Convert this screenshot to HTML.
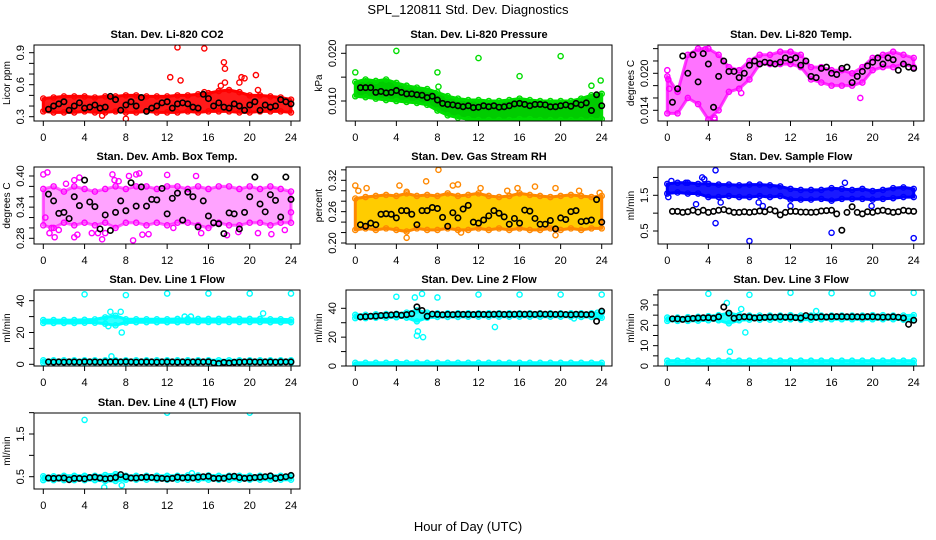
<!DOCTYPE html>
<html><head><meta charset="utf-8"><style>
html,body{margin:0;padding:0;background:#fff;}
svg{display:block;font-family:"Liberation Sans",Arial,sans-serif;}
</style></head><body>
<svg id="chart" width="936" height="540" viewBox="0 0 936 540">
<rect x="0" y="0" width="936" height="540" fill="#fff"/>
<text x="468" y="14" text-anchor="middle" font-size="13">SPL_120811  Std. Dev. Diagnostics</text>
<text x="468" y="531" text-anchor="middle" font-size="13">Hour of Day (UTC)</text>
</svg>
<script>
const HOURS=[0,1,2,3,4,5,6,7,8,9,10,11,12,13,14,15,16,17,18,19,20,21,22,23,24];
const HALF=[0.5,1,1.5,2,2.5,3,3.5,4,4.5,5,5.5,6,6.5,7,7.5,8,8.5,9,9.5,10,10.5,11,11.5,12,12.5,13,13.5,14,14.5,15,15.5,16,16.5,17,17.5,18,18.5,19,19.5,20,20.5,21,21.5,22,22.5,23,23.5,24];
const X_TICKS=[0,4,8,12,16,20,24];

const co2Lo=[0.35,0.34,0.34,0.34,0.35,0.34,0.34,0.35,0.34,0.34,0.35,0.34,0.34,0.34,0.35,0.34,0.35,0.35,0.35,0.34,0.34,0.35,0.35,0.35,0.34];
const co2Hi=[0.47,0.48,0.49,0.49,0.49,0.48,0.49,0.49,0.50,0.50,0.49,0.49,0.49,0.50,0.50,0.51,0.52,0.54,0.55,0.53,0.50,0.50,0.49,0.48,0.46];
const co2Black=[0.37,0.40,0.42,0.44,0.36,0.40,0.43,0.38,0.39,0.41,0.38,0.39,0.49,0.46,0.36,0.41,0.44,0.40,0.48,0.35,0.38,0.40,0.43,0.44,0.38,0.42,0.43,0.42,0.39,0.38,0.51,0.47,0.40,0.43,0.39,0.38,0.42,0.40,0.36,0.41,0.44,0.36,0.41,0.39,0.40,0.46,0.44,0.42];
const co2OutX=[13,15.6,12.3,13.3,17.5,17.6,17.2,17.6,19.0,19.2,19.5,20.6,20.8,15.6,8,5.7];
const co2OutY=[0.95,0.94,0.67,0.64,0.81,0.75,0.59,0.62,0.62,0.67,0.66,0.69,0.55,0.53,0.28,0.31];

const presLo=[0.0110,0.0108,0.0105,0.0102,0.0100,0.0098,0.0096,0.0092,0.0080,0.0070,0.0065,0.0062,0.0060,0.0060,0.0060,0.0060,0.0062,0.0062,0.0060,0.0060,0.0060,0.0060,0.0060,0.0060,0.0062];
const presHi=[0.0140,0.0145,0.0142,0.0145,0.0138,0.0132,0.0128,0.0125,0.0118,0.0110,0.0105,0.0102,0.0102,0.0100,0.0100,0.0102,0.0105,0.0102,0.0100,0.0100,0.0100,0.0100,0.0105,0.0112,0.0115];
const presBlack=[0.0128,0.0128,0.0128,0.0118,0.0120,0.0117,0.0118,0.0122,0.0118,0.0115,0.0115,0.0113,0.0112,0.0107,0.0110,0.0102,0.0095,0.0093,0.0092,0.0090,0.0088,0.0090,0.0086,0.0087,0.0090,0.0088,0.0090,0.0087,0.0088,0.0090,0.0094,0.0095,0.0093,0.0090,0.0093,0.0093,0.0092,0.0088,0.0088,0.0090,0.0092,0.0089,0.0095,0.0092,0.0096,0.0080,0.0113,0.0090];
const presOutX=[0,4,8,8.1,12,16,20,23,23.9];
const presOutY=[0.016,0.0205,0.016,0.0130,0.0190,0.0152,0.0194,0.0132,0.0143];

const litLo=[0.0135,0.0135,0.016,0.015,0.0125,0.014,0.017,0.0175,0.019,0.0215,0.0215,0.0215,0.0215,0.021,0.019,0.0185,0.018,0.018,0.018,0.0185,0.0205,0.021,0.021,0.0215,0.021];
const litHi=[0.0195,0.017,0.023,0.024,0.024,0.023,0.021,0.0205,0.022,0.023,0.023,0.0235,0.0235,0.023,0.021,0.021,0.0205,0.0205,0.020,0.021,0.0225,0.023,0.0235,0.023,0.0225];
const litBlack=[0.0153,0.0175,0.0228,0.0200,0.0230,0.0186,0.0232,0.0215,0.0145,0.0195,0.0220,0.0203,0.0203,0.0193,0.0200,0.0213,0.0220,0.0215,0.0218,0.0217,0.0215,0.0218,0.0225,0.0222,0.0225,0.0213,0.0220,0.0195,0.0193,0.0208,0.0210,0.0200,0.0198,0.0208,0.0210,0.0185,0.0195,0.0203,0.0212,0.0218,0.0225,0.0215,0.0225,0.0222,0.0205,0.0215,0.0210,0.0208];
const litOutX=[0,0.1,0.2,3.7,4.6,4.6,7.2,18.8];
const litOutY=[0.0205,0.0190,0.0175,0.0239,0.0125,0.0128,0.0168,0.0160];

const ambLo=[0.305,0.30,0.31,0.305,0.31,0.305,0.31,0.30,0.31,0.31,0.305,0.31,0.305,0.31,0.31,0.305,0.30,0.31,0.305,0.305,0.31,0.31,0.305,0.31,0.31];
const ambHi=[0.375,0.38,0.37,0.38,0.375,0.37,0.375,0.38,0.375,0.38,0.38,0.375,0.38,0.38,0.375,0.38,0.375,0.38,0.38,0.375,0.38,0.375,0.38,0.375,0.37];
const ambBlack=[0.365,0.352,0.328,0.330,0.318,0.360,0.343,0.392,0.350,0.341,0.298,0.325,0.295,0.330,0.352,0.333,0.387,0.342,0.379,0.342,0.355,0.354,0.376,0.327,0.357,0.367,0.315,0.369,0.360,0.302,0.352,0.323,0.310,0.308,0.289,0.329,0.327,0.298,0.330,0.360,0.398,0.346,0.331,0.364,0.353,0.321,0.398,0.355];
const ambOutX=[0,0.4,0.6,3.3,3.5,6.7,6.9,8.3,8.7,9.0,9.3,12.0,14.8,3.0,4.7,5.7,6.0,9.6,10.2,0.2,1.1,2.2,3.0,5.3,7.3,12.6,15.3,17.8,18.9,20.8,22.1,23.4,24,0.8,1.5];
const ambOutY=[0.403,0.407,0.290,0.287,0.397,0.403,0.392,0.400,0.276,0.403,0.405,0.402,0.400,0.282,0.290,0.278,0.290,0.287,0.288,0.320,0.282,0.385,0.392,0.290,0.390,0.300,0.290,0.286,0.292,0.290,0.288,0.296,0.330,0.300,0.296];

const rhLo=[0.225,0.228,0.225,0.228,0.225,0.222,0.228,0.225,0.225,0.228,0.225,0.225,0.228,0.225,0.228,0.225,0.228,0.225,0.225,0.228,0.225,0.228,0.225,0.228,0.228];
const rhHi=[0.285,0.288,0.29,0.292,0.29,0.295,0.29,0.292,0.29,0.295,0.29,0.292,0.295,0.29,0.288,0.29,0.295,0.292,0.29,0.288,0.29,0.292,0.29,0.288,0.29];
const rhBlack=[0.235,0.232,0.238,0.235,0.255,0.256,0.255,0.248,0.262,0.262,0.255,0.235,0.262,0.262,0.268,0.266,0.249,0.232,0.258,0.248,0.265,0.272,0.240,0.238,0.244,0.252,0.262,0.257,0.250,0.236,0.247,0.238,0.263,0.261,0.247,0.236,0.236,0.243,0.227,0.248,0.245,0.260,0.262,0.241,0.242,0.244,0.283,0.240];
const rhOutX=[0,0.3,1.1,4.3,5.0,6.9,8.1,9.5,10.0,12.2,14.8,15.8,17.5,19.5,21.8,23.8,5.0,19.5,10.3];
const rhOutY=[0.310,0.300,0.305,0.310,0.298,0.318,0.340,0.310,0.312,0.305,0.300,0.305,0.308,0.305,0.300,0.296,0.210,0.215,0.220];

const sflLo=[1.55,1.58,1.55,1.55,1.45,1.45,1.48,1.45,1.45,1.48,1.45,1.48,1.38,1.38,1.38,1.40,1.35,1.40,1.40,1.40,1.38,1.40,1.42,1.45,1.45];
const sflHi=[1.82,1.85,1.85,1.82,1.82,1.80,1.80,1.78,1.80,1.80,1.78,1.75,1.68,1.65,1.65,1.65,1.70,1.68,1.65,1.68,1.62,1.65,1.70,1.72,1.68];
const sflBlack=[1.05,1.05,1.02,1.04,1.08,1.03,1.08,1.02,1.05,1.08,1.10,1.06,1.02,1.02,1.04,1.02,1.04,1.06,1.04,1.10,1.06,0.95,1.02,1.05,1.05,1.03,1.03,1.02,1.03,1.06,1.07,1.08,0.98,0.52,1.02,1.18,1.02,0.98,1.04,1.02,1.06,1.08,1.05,1.02,1.04,1.08,1.06,1.05];
const sflOutX=[4.7,3.4,3.6,1.8,0.4,0.1,8,16,24,4.7,2.8,5.2,8.9,9.3,12.0,17.3,19.9];
const sflOutY=[2.20,2.00,1.95,1.85,1.90,1.45,0.22,0.45,0.30,0.72,1.25,1.30,1.30,1.20,1.20,1.85,1.20];

const l1Lo=[26.0,26.0,26.0,26.0,26.2,26.2,25.5,24.5,26.3,26.5,26.5,26.5,26.5,26.5,26.6,26.6,26.6,26.6,26.6,26.6,26.6,26.6,26.5,26.5,26.5];
const l1Hi=[27.8,27.8,27.8,27.8,28.0,28.2,29.5,30.5,28.3,28.3,28.3,28.3,28.3,28.5,28.5,28.5,28.5,28.5,28.5,28.5,28.5,28.5,28.3,28.3,28.0];
const l1Lo2=[1.0,1.0,1.0,1.0,1.0,1.0,1.0,1.0,1.0,1.0,1.0,1.0,1.0,1.0,1.0,1.0,1.0,1.0,1.0,1.0,1.0,1.0,1.0,1.0,1.0];
const l1Hi2=[2.5,2.5,2.5,2.5,2.5,2.5,2.5,2.5,2.5,2.5,2.5,2.5,2.5,2.5,2.5,2.5,2.5,2.5,2.5,2.5,2.5,2.5,2.5,2.5,2.5];
const l1Black=[1.5,1.4,1.5,1.4,1.5,1.5,1.4,1.6,1.5,1.5,1.4,1.5,1.5,1.6,1.5,1.6,1.5,1.4,1.5,1.5,1.5,1.4,1.5,1.5,1.5,1.4,1.5,1.4,1.5,1.5,1.5,1.6,1.0,0.5,1.2,0.8,1.3,1.4,1.5,1.6,1.5,1.4,1.5,1.5,1.4,1.5,1.5,1.5];
const l1OutX=[4,8,12,16,20,24,6.5,7.5,6.3,7.6,21.3,13.7,14.3,6.6];
const l1OutY=[44,43.5,44.5,44.5,44.5,44.5,33,33,24,20,32,30,30,5];

const l2Lo=[33.2,33.2,33.5,33.5,33.8,33.5,31.0,33.5,34.0,34.0,34.0,34.2,34.2,34.2,34.2,34.2,34.2,34.2,34.2,34.2,34.2,34.2,34.0,34.0,33.5];
const l2Hi=[35.5,35.5,35.8,36.0,36.2,37.0,38.5,37.0,36.5,36.5,36.5,36.5,36.5,36.5,36.5,36.5,36.5,36.5,36.5,36.5,36.5,36.5,36.5,36.5,37.0];
const l2Lo2=[0.3,0.3,0.3,0.3,0.3,0.3,0.3,0.3,0.3,0.3,0.3,0.3,0.3,0.3,0.3,0.3,0.3,0.3,0.3,0.3,0.3,0.3,0.3,0.3,0.3];
const l2Hi2=[2.2,2.2,2.2,2.2,2.5,2.2,2.2,2.2,2.2,2.2,2.2,2.2,2.2,2.2,2.2,2.2,2.2,2.2,2.2,2.2,2.2,2.2,2.2,2.2,2.2];
const l2Black=[34,34.2,34.5,34.6,35,35.2,35.4,35.8,35.2,35.6,36.2,41,38.5,34.5,36,35.8,35.5,35.8,35.6,35.9,35.8,35.8,35.7,35.9,35.8,35.7,35.9,36.0,35.8,35.8,35.9,36.0,35.9,36.0,35.8,36.1,35.9,36.0,35.8,36.0,35.7,35.5,35.9,35.8,35.6,35.8,31,38];
const l2OutX=[4,5.8,6.5,8,12,16,20,24,6,6.1,6.6,13.6,21.3,23.6];
const l2OutY=[48,47.5,50,47.5,49.5,49.5,49.5,49.5,21,24,20,27,33,37];

const l3Lo=[22.2,22.2,22.2,22.3,22.5,22.5,21.0,22.5,22.8,22.8,22.8,22.8,23.0,22.8,22.8,23.0,23.0,23.0,23.0,23.0,23.0,23.0,23.0,22.8,22.5];
const l3Hi=[23.8,23.8,24.0,24.2,24.5,25.0,26.0,25.0,24.8,24.8,24.8,24.8,25.0,24.8,24.8,24.8,24.8,24.8,24.8,24.8,25.0,25.0,24.8,24.8,25.0];
const l3Lo2=[0.8,0.8,0.8,0.8,0.8,0.8,0.8,0.8,0.8,0.8,0.8,0.8,0.8,0.8,0.8,0.8,0.8,0.8,0.8,0.8,0.8,0.8,0.8,0.8,0.8];
const l3Hi2=[2.6,2.6,2.6,2.6,2.6,2.6,2.6,2.6,2.6,2.6,2.6,2.6,2.6,2.6,2.6,2.6,2.6,2.6,2.6,2.6,2.6,2.6,2.6,2.6,2.6];
const l3Black=[23.2,23.2,22.9,23.2,23.4,23.6,23.7,23.8,23.5,24.2,29,26,23.5,24.0,24.2,24.1,23.6,23.8,23.9,24.1,24.0,24.2,24.0,24.1,23.8,23.6,24.8,24.1,24.0,24.2,24.1,24.3,24.3,24.3,24.2,24.2,24.2,24.1,24.3,24.2,24.1,24.0,24.1,24.2,24.0,23.6,20.5,22.5];
const l3OutX=[4,8,12,16,20,24,5.8,7.2,6.1,7.6,14.5];
const l3OutY=[35.5,35.0,36.0,35.8,35.6,36.0,31,28,7,16.5,27];

const l4Lo=[0.42,0.42,0.42,0.42,0.42,0.42,0.40,0.40,0.43,0.43,0.43,0.43,0.43,0.43,0.43,0.43,0.43,0.43,0.43,0.43,0.43,0.43,0.43,0.43,0.43];
const l4Hi=[0.51,0.51,0.52,0.52,0.52,0.52,0.54,0.56,0.52,0.52,0.52,0.52,0.52,0.52,0.53,0.53,0.53,0.52,0.52,0.52,0.52,0.52,0.52,0.52,0.52];
const l4Black=[0.47,0.46,0.47,0.47,0.43,0.46,0.46,0.45,0.48,0.49,0.47,0.45,0.46,0.48,0.55,0.50,0.47,0.47,0.48,0.49,0.48,0.47,0.46,0.45,0.46,0.49,0.47,0.48,0.47,0.49,0.50,0.51,0.46,0.46,0.46,0.50,0.51,0.48,0.46,0.47,0.48,0.49,0.50,0.52,0.46,0.48,0.50,0.53];
const l4OutX=[4,12,20,5.9,7.6,14.4];
const l4OutY=[1.83,2.0,2.0,0.25,0.30,0.58];

const svg=document.getElementById('chart');
const NS='http://www.w3.org/2000/svg';
function mk(tag,attrs,parent){const e=document.createElementNS(NS,tag);for(const k in attrs)e.setAttribute(k,attrs[k]);(parent||svg).appendChild(e);return e;}

const COLS=[{x0:34,x1:300,p0:43.3,p24:291},{x0:346,x1:612,p0:355.3,p24:601.7},{x0:658,x1:924,p0:667.3,p24:913.7}];
const ROWS=[{y0:45,y1:121},{y0:167,y1:244},{y0:290,y1:366},{y0:413,y1:489}];

const panels=[
 {name:'co2',title:'Stan. Dev. Li-820 CO2',ylab:'Licor ppm',c:0,r:0,ya:[0.3,116.7,0.9,52.7],ticks:[0.3,0.4,0.5,0.6,0.7,0.8,0.9],labs:[0.3,0.6,0.9],dec:1,col:'#ff0000',fill:'#ff1a1a',fo:1,bands:[[co2Lo,co2Hi]],blk:co2Black,ox:co2OutX,oy:co2OutY},
 {name:'pressure',title:'Stan. Dev. Li-820 Pressure',ylab:'kPa',c:1,r:0,ya:[0.010,101,0.020,53.3],ticks:[0.010,0.015,0.020],labs:[0.010,0.020],dec:3,col:'#00dd00',fill:'#00cc00',fo:1,bands:[[presLo,presHi]],blk:presBlack,ox:presOutX,oy:presOutY},
 {name:'licor-temp',title:'Stan. Dev. Li-820 Temp.',ylab:'degrees C',c:2,r:0,ya:[0.014,110.3,0.020,73.3],ticks:[0.014,0.016,0.018,0.020,0.022,0.024],labs:[0.014,0.020],dec:3,col:'#ff00ff',fill:'#ff44ff',fo:0.75,bands:[[litLo,litHi]],blk:litBlack,ox:litOutX,oy:litOutY},
 {name:'amb-box-temp',title:'Stan. Dev. Amb. Box Temp.',ylab:'degrees C',c:0,r:1,ya:[0.28,238.3,0.40,176],ticks:[0.28,0.30,0.32,0.34,0.36,0.38,0.40],labs:[0.28,0.34,0.40],dec:2,col:'#ff00ff',fill:'#ff66ff',fo:0.6,bands:[[ambLo,ambHi]],blk:ambBlack,ox:ambOutX,oy:ambOutY},
 {name:'gas-stream-rh',title:'Stan. Dev. Gas Stream RH',ylab:'percent',c:1,r:1,ya:[0.20,243,0.32,180.3],ticks:[0.20,0.22,0.24,0.26,0.28,0.30,0.32,0.34],labs:[0.20,0.26,0.32],dec:2,col:'#ff8800',fill:'#ffcc00',fo:1,bands:[[rhLo,rhHi]],blk:rhBlack,ox:rhOutX,oy:rhOutY},
 {name:'sample-flow',title:'Stan. Dev. Sample Flow',ylab:'ml/min',c:2,r:1,ya:[0.5,231,1.5,195.3],ticks:[0.5,1.0,1.5,2.0],labs:[0.5,1.5],dec:1,col:'#0000ff',fill:'#1a1aff',fo:1,bands:[[sflLo,sflHi]],blk:sflBlack,ox:sflOutX,oy:sflOutY},
 {name:'line1-flow',title:'Stan. Dev. Line 1 Flow',ylab:'ml/min',c:0,r:2,ya:[0,364.3,40,300.7],ticks:[0,10,20,30,40],labs:[0,20,40],dec:0,col:'#00ffff',fill:'#33ffff',fo:1,bands:[[l1Lo,l1Hi],[l1Lo2,l1Hi2]],blk:l1Black,ox:l1OutX,oy:l1OutY},
 {name:'line2-flow',title:'Stan. Dev. Line 2 Flow',ylab:'ml/min',c:1,r:2,ya:[0,366,40,308.3],ticks:[0,10,20,30,40],labs:[0,20,40],dec:0,col:'#00ffff',fill:'#33ffff',fo:1,bands:[[l2Lo,l2Hi],[l2Lo2,l2Hi2]],blk:l2Black,ox:l2OutX,oy:l2OutY},
 {name:'line3-flow',title:'Stan. Dev. Line 3 Flow',ylab:'ml/min',c:2,r:2,ya:[0,366,30,305],ticks:[0,5,10,15,20,25,30,35],labs:[0,10,20,30],dec:0,col:'#00ffff',fill:'#33ffff',fo:1,bands:[[l3Lo,l3Hi],[l3Lo2,l3Hi2]],blk:l3Black,ox:l3OutX,oy:l3OutY},
 {name:'line4-flow',title:'Stan. Dev. Line 4 (LT) Flow',ylab:'ml/min',c:0,r:3,ya:[0.5,476.7,1.5,434],ticks:[0.5,1.0,1.5,2.0],labs:[0.5,1.5],dec:1,col:'#00ffff',fill:'#33ffff',fo:1,bands:[[l4Lo,l4Hi]],blk:l4Black,ox:l4OutX,oy:l4OutY}
];

panels.forEach(p=>{
  const C=COLS[p.c],R=ROWS[p.r];
  const xs=h=>C.p0+(C.p24-C.p0)*h/24;
  const ys=v=>p.ya[1]+(v-p.ya[0])*(p.ya[3]-p.ya[1])/(p.ya[2]-p.ya[0]);
  const g=mk('g',{});
  
  
  const clipId='clip-'+p.name;
  const cp=mk('clipPath',{id:clipId},g);
  mk('rect',{x:C.x0,y:R.y0,width:C.x1-C.x0,height:R.y1-R.y0},cp);
  const plot=mk('g',{'clip-path':'url(#'+clipId+')'},g);
  
  
  p.bands.forEach(b=>{
    const lo=b[0],hi=b[1];
    let d='';
    HOURS.forEach((h,i)=>{d+=(i?'L':'M')+xs(h).toFixed(1)+','+ys(hi[i]).toFixed(1);});
    for(let i=HOURS.length-1;i>=0;i--)d+='L'+xs(HOURS[i]).toFixed(1)+','+ys(lo[i]).toFixed(1);
    const band=mk('path',{d:d+'Z',fill:p.fill,'fill-opacity':p.fo,stroke:p.col,'stroke-width':3,'stroke-linejoin':'round','stroke-opacity':p.fo},plot);
    
    
    HOURS.forEach((h,i)=>{
      [lo[i],hi[i]].forEach(v=>{
        const c=mk('circle',{cx:xs(h),cy:ys(v),r:2.6,fill:'none',stroke:p.col,'stroke-width':1.4},plot);
        
        
      });
    });
  });
  p.ox.forEach((h,i)=>{
    const c=mk('circle',{cx:xs(h),cy:ys(p.oy[i]),r:2.6,fill:'none',stroke:p.col,'stroke-width':1.4},plot);
    
    
  });
  HALF.forEach((h,i)=>{
    const c=mk('circle',{cx:xs(h),cy:ys(p.blk[i]),r:2.7,fill:'none',stroke:'#000','stroke-width':1.6},plot);
    
    
  });
  const box=mk('rect',{x:C.x0,y:R.y0,width:C.x1-C.x0,height:R.y1-R.y0,fill:'none',stroke:'#000','stroke-width':1},g);
  
  
  X_TICKS.forEach(t=>{
    const x=xs(t);
    mk('line',{x1:x,y1:R.y1,x2:x,y2:R.y1+5,stroke:'#000'},g);
    const tl=mk('text',{x:x,y:R.y1+20,'text-anchor':'middle','font-size':11},g);
    tl.textContent=t;
    
    
  });
  p.ticks.forEach(t=>{
    const y=ys(t);
    mk('line',{x1:C.x0-5,y1:y,x2:C.x0,y2:y,stroke:'#000'},g);
  });
  mk('line',{x1:C.x0,y1:ys(p.ticks[0]),x2:C.x0,y2:ys(p.ticks[p.ticks.length-1]),stroke:'#000'},g);
  p.labs.forEach(t=>{
    const y=ys(t);const x=C.x0-10;
    const tl=mk('text',{x:x,y:y,'text-anchor':'middle','font-size':11,transform:'rotate(-90 '+x+' '+y+')'},g);
    tl.textContent=t.toFixed(p.dec);
    
    
  });
  const yx=C.x0-24,yy=(R.y0+R.y1)/2;
  const yl=mk('text',{x:yx,y:yy,'text-anchor':'middle','font-size':10,transform:'rotate(-90 '+yx+' '+yy+')'},g);
  yl.textContent=p.ylab;
  
  
  const tt=mk('text',{x:(C.x0+C.x1)/2,y:R.y0-7,'text-anchor':'middle','font-size':11,'font-weight':'bold'},g);
  tt.textContent=p.title;
  
  
});
</script>
</body></html>
